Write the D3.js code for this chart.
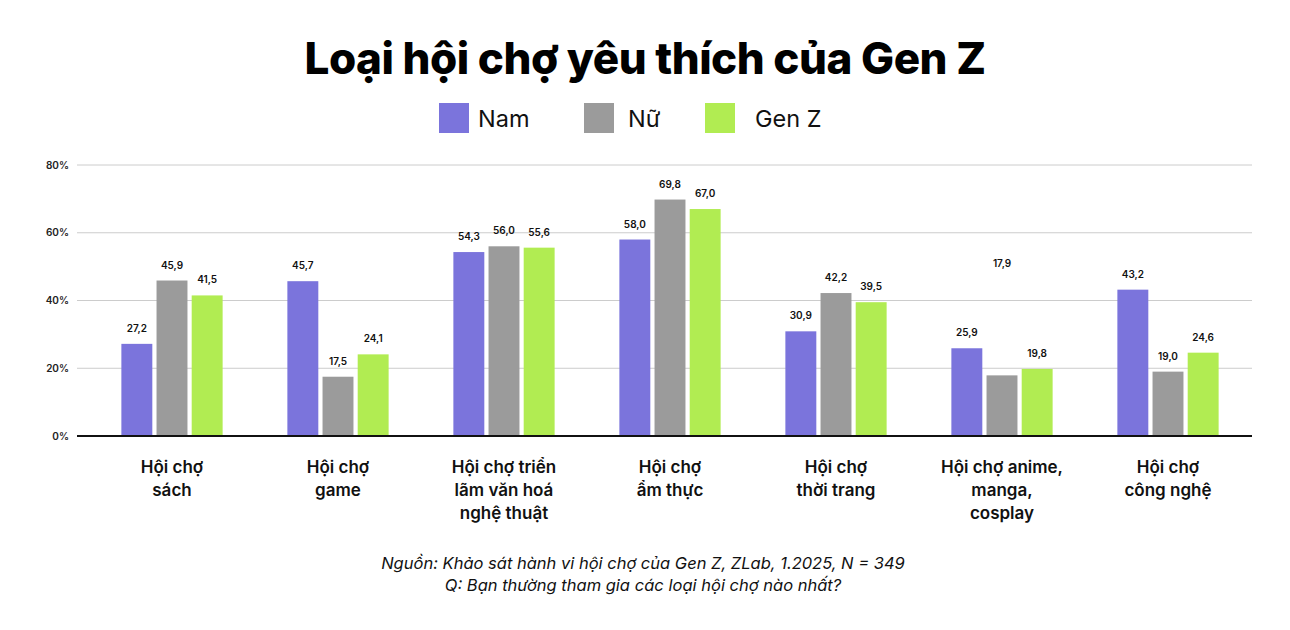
<!DOCTYPE html>
<html><head><meta charset="utf-8">
<script src="https://cdn.jsdelivr.net/npm/d3@7"></script>
<style>body{margin:0;background:#fff;} svg{display:block;font-family:Inter,"Noto Sans",sans-serif;}</style>
</head><body>
<svg id="c" width="1290" height="630"></svg>
<script>
const categories = [
  ["Hội chợ","sách"],
  ["Hội chợ","game"],
  ["Hội chợ triển","lãm văn hoá","nghệ thuật"],
  ["Hội chợ","ẩm thực"],
  ["Hội chợ","thời trang"],
  ["Hội chợ anime,","manga,","cosplay"],
  ["Hội chợ","công nghệ"]
];
const seriesNames = ["Nam","Nữ","Gen Z"];
const nam  = [27.2, 45.7, 54.3, 58.0, 30.9, 25.9, 43.2];
const nu   = [45.9, 17.5, 56.0, 69.8, 42.2, 17.9, 19.0];
const genz = [41.5, 24.1, 55.6, 67.0, 39.5, 19.8, 24.6];
// label anchor override (reference shows one label displaced)
const nuLabelAt = [null, null, null, null, null, 46.3, null];
const yTicks = [0, 20, 40, 60, 80];
const colors = ["#7b74dc", "#9b9b9b", "#b1ec52"];
const title = "Loại hội chợ yêu thích của Gen Z";
const sourceLines = ["Nguồn: Khảo sát hành vi hội chợ của Gen Z, ZLab, 1.2025, N = 349",
                     "Q: Bạn thường tham gia các loại hội chợ nào nhất?"];

const series = [nam, nu, genz];
const labelAt = [nam.map(()=>null), nuLabelAt, genz.map(()=>null)];
const svg = d3.select("#c");

svg.append("text").attr("x", 645).attr("y", 74).attr("text-anchor","middle")
  .attr("font-size", 44).attr("font-weight", 800).attr("letter-spacing","-0.5")
  .attr("fill","#000").text(title);

// legend
const legX = [439, 584, 705], legTX = [478, 628, 755];
seriesNames.forEach((n,i)=>{
  svg.append("rect").attr("x", legX[i]).attr("y", 103).attr("width", 30).attr("height", 30).attr("fill", colors[i]);
  svg.append("text").attr("x", legTX[i]).attr("y", 127).attr("font-size", 23.5).attr("fill","#111").text(n);
});

const y = d3.scaleLinear().domain([0,80]).range([436,165]);
const x0 = d3.scaleBand().domain(d3.range(categories.length)).range([89,1251]).paddingInner(0.39).paddingOuter(0.195);
const x1 = d3.scaleBand().domain(d3.range(3)).range([0, x0.bandwidth()]).paddingInner(0.12);

// grid
const grid = svg.append("g");
yTicks.forEach(t=>{
  if (t>0) grid.append("line").attr("x1",77).attr("x2",1252).attr("y1",y(t)).attr("y2",y(t)).attr("stroke","#cccccc").attr("stroke-width",1);
  grid.append("text").attr("x",69).attr("y",y(t)+3.5).attr("text-anchor","end").attr("font-size",10).attr("font-weight",600).attr("fill","#222").text(t+"%");
});

// bars
const gBars = svg.append("g");
categories.forEach((c,ci)=>{
  series.forEach((s,si)=>{
    const bx = x0(ci)+x1(si);
    gBars.append("rect").attr("x",bx).attr("y",y(s[ci])).attr("width",x1.bandwidth()).attr("height",y(0)-y(s[ci]))
      .attr("fill",colors[si]);
    const la = labelAt[si][ci] != null ? labelAt[si][ci] : s[ci];
    gBars.append("text").attr("x",bx+x1.bandwidth()/2).attr("y",y(la)-12).attr("text-anchor","middle")
      .attr("font-size",10).attr("font-weight",600).attr("fill","#111").text(s[ci].toFixed(1).replace(".",","));
  });
});

svg.append("line").attr("x1",77).attr("x2",1252).attr("y1",y(0)).attr("y2",y(0)).attr("stroke","#111").attr("stroke-width",2);

// category labels
categories.forEach((c,ci)=>{
  const t = svg.append("text").attr("x",x0(ci)+x0.bandwidth()/2).attr("text-anchor","middle")
    .attr("font-size",17).attr("font-weight",600).attr("fill","#111");
  c.forEach((line,li)=>t.append("tspan").attr("x",x0(ci)+x0.bandwidth()/2).attr("y",473+li*23).text(line));
});

sourceLines.forEach((l,i)=>{
  svg.append("text").attr("x",643).attr("y",569+i*22).attr("text-anchor","middle").attr("font-size",16.5)
    .attr("font-style","italic").attr("fill","#111").text(l);
});
</script>
</body></html>
